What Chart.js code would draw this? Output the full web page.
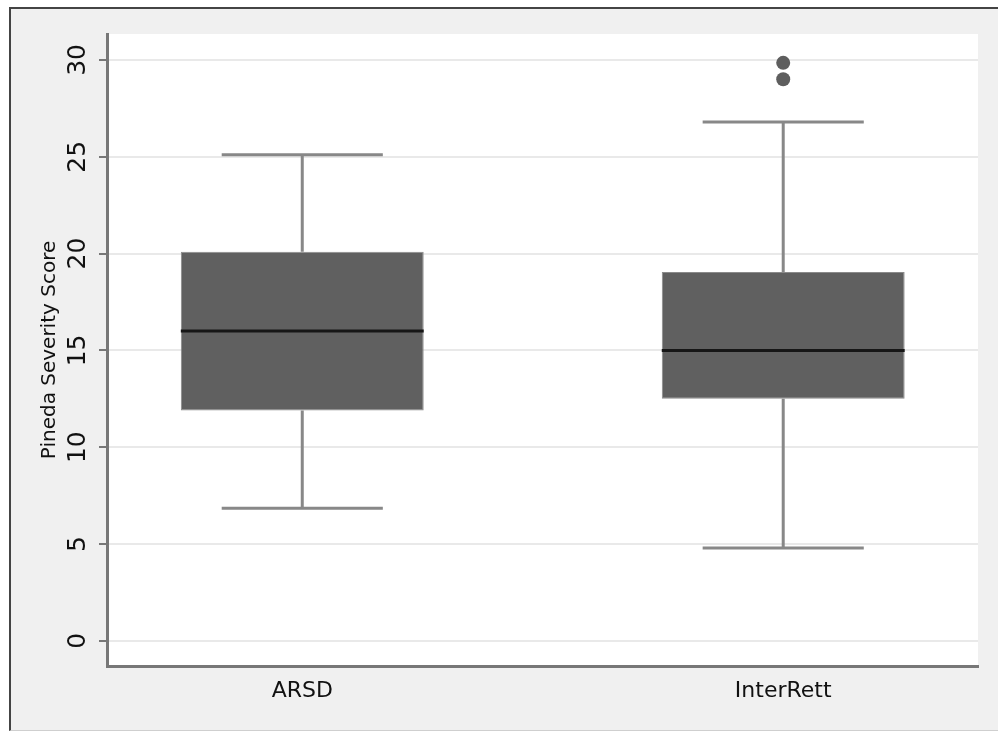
<!DOCTYPE html>
<html>
<head>
<meta charset="utf-8">
<script src="https://cdn.jsdelivr.net/npm/chart.js@4.4.1/dist/chart.umd.min.js"></script>
<style>
  body { margin: 0; background: #fff; }
  #frame {
    position: absolute; left: 9px; top: 7px;
    width: 987px; height: 721px;
    border-left: 2px solid #444; border-top: 2px solid #444; border-bottom: 1px solid #cfcfcf;
    background: #f0f0f0;
  }
</style>
</head>
<body>
<div id="frame"><canvas id="box" width="987" height="721"></canvas></div>
<script>
var groups = ['ARSD', 'InterRett'];
var lowWhisker = [6.85, 4.8];
var q1 = [11.9, 12.5];
var median = [16, 15];
var q3 = [20.1, 19.05];
var highWhisker = [25.1, 26.8];
var outliers = [[], [29, 29.85]];
var yTickValues = [0, 5, 10, 15, 20, 25, 30];

var boxWidth = 0.505;  // in category units
var capWidth = 0.335;

function segments(fn) {
    var pts = [];
    for (var i = 0; i < groups.length; i++) {
        var s = fn(i, i + 1);
        pts.push(s[0], s[1], { x: i + 1, y: null });
    }
    return pts;
}

var boxData = groups.map(function (g, i) { return { x: i + 1, y: [q1[i], q3[i]] }; });
var medianData = segments(function (i, x) {
    return [{ x: x - boxWidth / 2, y: median[i] }, { x: x + boxWidth / 2, y: median[i] }];
});
var whiskerData = segments(function (i, x) {
    return [{ x: x, y: lowWhisker[i] }, { x: x, y: q1[i] }];
}).concat(segments(function (i, x) {
    return [{ x: x, y: q3[i] }, { x: x, y: highWhisker[i] }];
}));
var capData = segments(function (i, x) {
    return [{ x: x - capWidth / 2, y: lowWhisker[i] }, { x: x + capWidth / 2, y: lowWhisker[i] }];
}).concat(segments(function (i, x) {
    return [{ x: x - capWidth / 2, y: highWhisker[i] }, { x: x + capWidth / 2, y: highWhisker[i] }];
}));
var outlierData = [];
outliers.forEach(function (list, i) {
    list.forEach(function (v) { outlierData.push({ x: i + 1, y: v }); });
});

var plotBg = {
    id: 'plotBg',
    beforeDraw: function (chart) {
        var a = chart.chartArea, ctx = chart.ctx;
        ctx.save();
        ctx.fillStyle = '#ffffff';
        ctx.fillRect(a.left, a.top, a.right - a.left, a.bottom - a.top);
        ctx.restore();
    }
};

var lineStyle = { type: 'line', pointRadius: 0, fill: false, spanGaps: false, borderCapStyle: 'butt' };

new Chart(document.getElementById('box').getContext('2d'), {
    type: 'bar',
    data: {
        datasets: [
            Object.assign({}, lineStyle, { data: medianData, borderColor: '#161616', borderWidth: 3, order: 0 }),
            { type: 'scatter', data: outlierData, pointRadius: 7, pointBackgroundColor: '#5e5e5e', pointBorderWidth: 0, order: 0 },
            { type: 'bar', data: boxData, backgroundColor: '#606060', borderColor: '#8a8a8a', borderWidth: 1,
              borderSkipped: false, barPercentage: boxWidth, categoryPercentage: 1, order: 1 },
            Object.assign({}, lineStyle, { data: whiskerData, borderColor: '#888888', borderWidth: 3, order: 2 }),
            Object.assign({}, lineStyle, { data: capData, borderColor: '#888888', borderWidth: 3, order: 2 })
        ]
    },
    options: {
        responsive: false,
        animation: false,
        layout: { padding: { top: 25, right: 20, bottom: 0, left: 0 } },
        plugins: { legend: { display: false }, tooltip: { enabled: false } },
        scales: {
            x: {
                type: 'linear',
                min: 0.594,
                max: 2.405,
                offset: false,
                grid: { drawOnChartArea: false, drawTicks: false, offset: false },
                border: { color: '#777777', width: 3 },
                afterBuildTicks: function (s) { s.ticks = groups.map(function (g, i) { return { value: i + 1 }; }); },
                afterFit: function (s) { s.height = 64; },
                ticks: {
                    padding: 12,
                    color: '#111',
                    font: { family: 'DejaVu Sans', size: 22 },
                    callback: function (v) { return groups[v - 1]; }
                }
            },
            y: {
                min: -1.3,
                max: 31.34,
                afterBuildTicks: function (s) { s.ticks = yTickValues.map(function (v) { return { value: v }; }); },
                afterFit: function (s) { s.width = 96; },
                grid: { color: '#e9e9e9', lineWidth: 2, tickColor: '#777777', tickLength: 8 },
                border: { color: '#777777', width: 3 },
                ticks: {
                    minRotation: 90, maxRotation: 90,
                    crossAlign: 'center',
                    padding: 5,
                    color: '#111',
                    font: { family: 'DejaVu Sans', size: 25 }
                },
                title: {
                    display: true,
                    text: 'Pineda Severity Score',
                    color: '#111',
                    font: { family: 'DejaVu Sans', size: 20 },
                    padding: { top: 27, bottom: 0 }
                }
            }
        }
    },
    plugins: [plotBg]
});
</script>
</body>
</html>
